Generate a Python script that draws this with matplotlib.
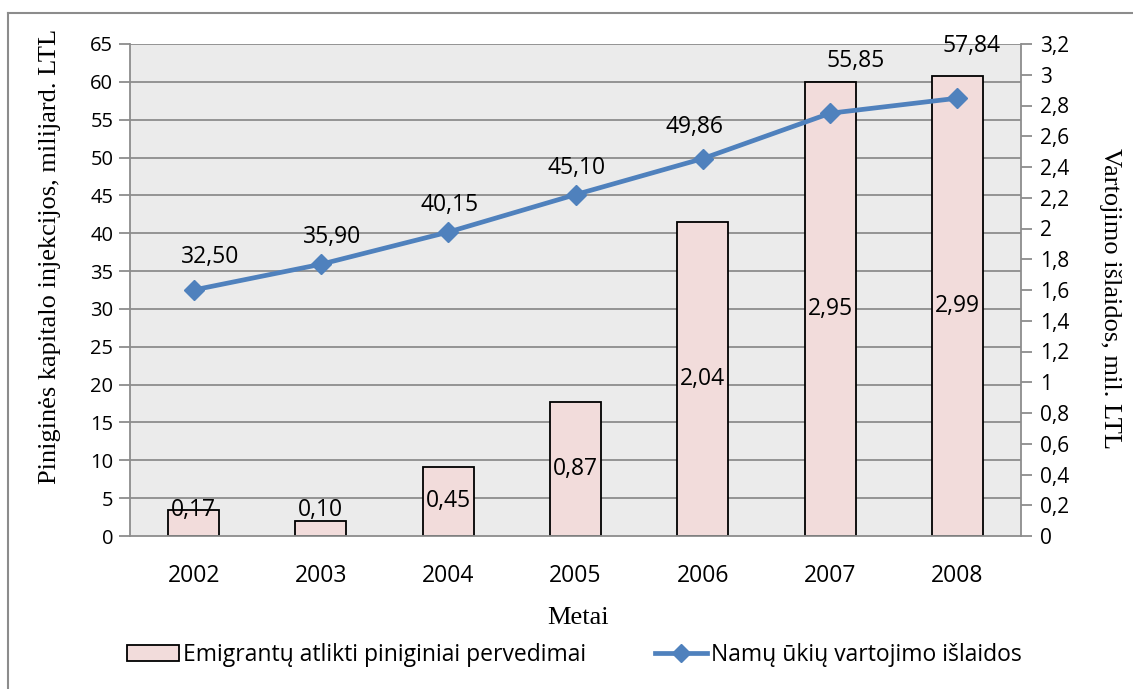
import matplotlib
matplotlib.use("Agg")
import matplotlib.pyplot as plt
from matplotlib.lines import Line2D
from matplotlib.patches import Patch
import numpy as np

years = ["2002", "2003", "2004", "2005", "2006", "2007", "2008"]
remittances = [0.17, 0.10, 0.45, 0.87, 2.04, 2.95, 2.99]        # right axis (bars)
consumption = [32.50, 35.90, 40.15, 45.10, 49.86, 55.85, 57.84]  # left axis (line)
left_ticks = list(range(0, 66, 5))
right_ticks = [round(0.2 * i, 1) for i in range(17)]

bar_label = "Emigrantų atlikti piniginiai pervedimai"
line_label = "Namų ūkių vartojimo išlaidos"
left_title = "Piniginės kapitalo injekcijos, milijard. LTL"
right_title = "Vartojimo išlaidos, mil. LTL"
x_title = "Metai"

# label offsets (pixels) for line labels
line_lbl_dx = [16, 11, 1, 1, -8, 26, 14]
line_lbl_dy = [33, 27, 27, 27, 32, 52, 52]

def fmt(v, nd=2):
    return f"{v:.{nd}f}".replace(".", ",")

def fmt_tick(v):
    s = f"{v:g}"
    return s.replace(".", ",")

W, H = 1133, 689
fig = plt.figure(figsize=(W / 100, H / 100), dpi=100)
tick_font = "Open Sans"
serif = "Liberation Serif"
FS_LY = 14.5
FS_RY = 15
FS_X = 16.5
FS_LBL = 16.5
FS_LEG = 16.5

ax = fig.add_axes([130 / W, 1 - 536 / H, (1021 - 130) / W, (536 - 44) / H])
ax2 = ax.twinx()
ax.set_zorder(ax2.get_zorder() + 1)
ax.patch.set_visible(False)
ax2.patch.set_visible(True)
ax2.patch.set_facecolor("#EBEBEB")

x = np.arange(len(years))
grid_c = "#8C8C8C"

# bars on right axis
ax2.bar(x, remittances, width=0.4, color="#F2DCDB", edgecolor="black", linewidth=1.3, zorder=2)
ax2.set_ylim(0, 3.2)
ax2.set_yticks(right_ticks)
ax2.set_yticklabels([fmt_tick(t) for t in right_ticks], fontsize=FS_RY, family=tick_font)

for xi, v in zip(x, remittances):
    ax2.text(xi, max(v / 2, 0.17), fmt(v), ha="center", va="center",
             fontsize=FS_LBL, family=tick_font, color="black", zorder=3)

# grid lines from left axis (drawn on ax2 background)
for t in left_ticks[1:]:
    ax2.axhline(t * 3.2 / 65, color=grid_c, lw=1.3, zorder=1)

# line on left axis
ax.plot(x, consumption, color="#4F81BD", lw=3.4, marker="D", markersize=10,
        markerfacecolor="#4F81BD", markeredgecolor="#4F81BD", zorder=5, clip_on=False)
ax.set_ylim(0, 65)
ax.set_xlim(-0.5, len(years) - 0.5)
ax.set_yticks(left_ticks)
ax.set_yticklabels([str(t) for t in left_ticks], fontsize=FS_LY, family=tick_font)

for xi, v, dx, dy in zip(x, consumption, line_lbl_dx, line_lbl_dy):
    ax.annotate(fmt(v), (xi, v), xytext=(dx * 0.72, dy * 0.72), textcoords="offset points",
                ha="center", va="center", fontsize=FS_LBL, family=tick_font, zorder=6)

# x ticks at category boundaries, labels at centers
ax.set_xticks(np.arange(-0.5, len(years), 1.0))
ax.set_xticklabels([])
ax.set_xticks(x, minor=True)
ax.set_xticklabels(years, minor=True, fontsize=FS_X, family=tick_font)
ax.tick_params(axis="x", which="major", length=8, width=1.3, color=grid_c, direction="out")
ax.tick_params(axis="x", which="minor", length=0, pad=20)
ax.tick_params(axis="y", length=8, width=1.3, color=grid_c, pad=4)
ax2.tick_params(axis="y", length=8, width=1.3, color=grid_c, pad=6)
ax2.set_xticks([])

for a in (ax, ax2):
    for s in a.spines.values():
        s.set_visible(False)
ax.spines["left"].set_visible(True)
ax.spines["left"].set_color(grid_c)
ax.spines["left"].set_linewidth(1.3)
ax.spines["bottom"].set_visible(True)
ax.spines["bottom"].set_color(grid_c)
ax.spines["bottom"].set_linewidth(1.3)
ax2.spines["right"].set_visible(True)
ax2.spines["right"].set_color(grid_c)
ax2.spines["right"].set_linewidth(1.3)

fig.text(50 / W, 1 - 256 / H, left_title, rotation=90, ha="center", va="center",
         fontsize=19, family=serif)
fig.text(1110 / W, 1 - 298 / H, right_title, rotation=-90, ha="center", va="center",
         fontsize=19, family=serif)
fig.text(578 / W, 1 - 618 / H, x_title, ha="center", va="center",
         fontsize=19, family=serif)

handles = [Patch(facecolor="#F2DCDB", edgecolor="black", linewidth=1.3),
           Line2D([0], [0], color="#4F81BD", lw=3.4, marker="D", markersize=9)]
leg = fig.legend(handles, [bar_label, line_label], loc="center",
                 bbox_to_anchor=(574 / W, 1 - 655 / H), ncol=2, frameon=False,
                 prop={"family": tick_font, "size": FS_LEG}, handlelength=2.3,
                 handleheight=0.7, handletextpad=0.15, columnspacing=3.0)

# outer chart border (clipped by the image)
fig.add_artist(Line2D([8 / W, 1.0], [1 - 13 / H, 1 - 13 / H], color="#8C8C8C", lw=1.5,
                      transform=fig.transFigure))
fig.add_artist(Line2D([8 / W, 8 / W], [1 - 13 / H, 0.0], color="#8C8C8C", lw=1.5,
                      transform=fig.transFigure))

fig.savefig("out.png", dpi=100, facecolor="white")
